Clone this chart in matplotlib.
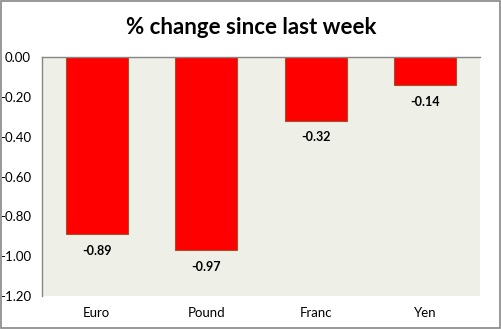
import matplotlib.pyplot as plt
from matplotlib.patches import Rectangle

currencies = ['Euro', 'Pound', 'Franc', 'Yen']
changes = [-0.89, -0.97, -0.32, -0.14]
yticks = [0.0, -0.2, -0.4, -0.6, -0.8, -1.0, -1.2]

plt.rcParams['font.family'] = ['Lato', 'DejaVu Sans']

fig = plt.figure(figsize=(5.02, 3.29), dpi=100)
# outer chart border
fig.patches.append(Rectangle((0.002, 0.004), 0.994, 0.992, transform=fig.transFigure,
                             fill=False, edgecolor='#868686', linewidth=1.2))

ax = fig.add_axes([42 / 502, 1 - 296 / 329, (480 - 42) / 502, (296 - 57) / 329])
ax.set_facecolor('#EEF0E7')

x = range(len(currencies))
ax.bar(x, changes, width=0.566, color='#FF0000', edgecolor='#A0522D', linewidth=0.8)

for i, v in enumerate(changes):
    ax.annotate('%.2f' % v, (i, v), xytext=(0, -12), textcoords='offset points',
                ha='center', va='center', fontsize=9, fontweight='bold')

ax.set_xlim(-0.5, len(currencies) - 0.5)
ax.set_ylim(-1.2, 0.0)
ax.set_yticks(yticks)
ax.set_yticklabels(['%.2f' % t for t in yticks], fontsize=9.5)
ax.set_xticks(list(x))
ax.set_xticklabels(currencies, fontsize=9.5)
ax.tick_params(axis='both', length=0)
ax.tick_params(axis='y', pad=8)
ax.tick_params(axis='x', pad=8)

for side in ['right', 'bottom']:
    ax.spines[side].set_visible(False)
for side in ['left', 'top']:
    ax.spines[side].set_color('#868686')
    ax.spines[side].set_linewidth(1.0)

fig.text(0.5, 1 - 27 / 329, '% change since last week', ha='center', va='center',
         fontsize=16, fontweight='bold')

fig.savefig('out.png', dpi=100)
